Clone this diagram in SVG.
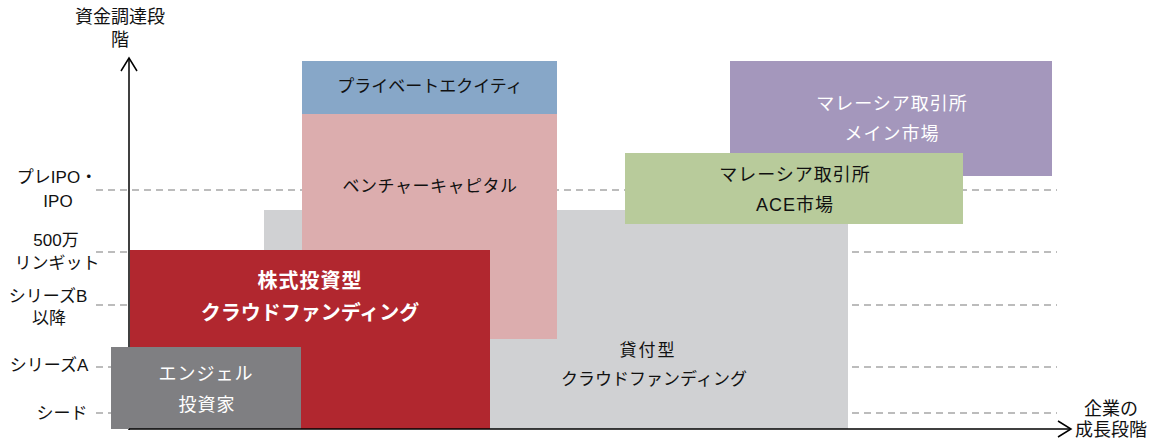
<svg xmlns="http://www.w3.org/2000/svg" width="1157" height="441" viewBox="0 0 1157 441">
<style>
text{font-family:"Liberation Sans","Noto Sans CJK JP",sans-serif;font-size:17px;text-anchor:middle;fill:#111;}
.w{fill:#fff;}
.b{font-weight:bold;font-size:20px;}
.m{font-size:18px;letter-spacing:1px;}
.lbl{font-size:17px;}
.ax18{font-size:18px;}
.dash{stroke:#a6a6a6;stroke-width:1.3;stroke-dasharray:7,5;fill:none;}
.ax{stroke:#000;stroke-width:1.5;fill:none;}
</style>
<rect width="1157" height="441" fill="#fff"/>
<g id="gridlines">
<line class="dash" x1="96" y1="190" x2="1057" y2="190"/>
<line class="dash" x1="96" y1="252" x2="1057" y2="252"/>
<line class="dash" x1="96" y1="305" x2="1057" y2="305"/>
<line class="dash" x1="96" y1="367" x2="1057" y2="367"/>
<line class="dash" x1="96" y1="413" x2="1057" y2="413"/>
</g>
<g id="yaxis">
<line class="ax" x1="129" y1="430" x2="129" y2="58"/>
<polyline class="ax" points="121,71 129,58 137,71"/>
</g>
<g id="lending">
<rect x="264" y="210" width="584" height="219" fill="#d0d1d3"/>
<text x="648" y="356" style="letter-spacing:2px">貸付型</text>
<text x="654" y="385">クラウドファンディング</text>
</g>
<g id="vc">
<rect x="302" y="114" width="255" height="225" fill="#dcadae"/>
<text x="430" y="192" style="letter-spacing:0.5px">ベンチャーキャピタル</text>
</g>
<g id="pe">
<rect x="302" y="61" width="255" height="53" fill="#87a7c8"/>
<text x="430" y="92">プライベートエクイティ</text>
</g>
<g id="equity">
<rect x="130" y="250" width="360" height="179" fill="#b1272f"/>
<text class="w b" x="310" y="288" style="letter-spacing:1px">株式投資型</text>
<text class="w b" x="310" y="320">クラウドファンディング</text>
</g>
<g id="angel">
<rect x="111" y="347" width="190" height="82" fill="#7f7f82"/>
<text class="w m" x="206" y="380">エンジェル</text>
<text class="w m" x="207" y="411">投資家</text>
</g>
<g id="main">
<rect x="730" y="61" width="322" height="115" fill="#a497bc"/>
<text class="w m" x="892" y="110">マレーシア取引所</text>
<text class="w m" x="892" y="140">メイン市場</text>
</g>
<g id="ace">
<rect x="625" y="153" width="338" height="71" fill="#b8cb9b"/>
<text class="m" x="795" y="181">マレーシア取引所</text>
<text class="m" x="795" y="211">ACE市場</text>
</g>
<g id="xaxis">
<line class="ax" x1="129" y1="429" x2="1071" y2="429"/>
<polyline class="ax" points="1058,421 1071,429 1058,437"/>
</g>
<g id="labels">
<text class="ax18" x="120" y="23">資金調達段</text>
<text class="ax18" x="120" y="46">階</text>
<text class="lbl" x="57" y="183">プレIPO・</text>
<text class="lbl" x="58" y="207">IPO</text>
<text class="lbl" x="56" y="246">500万</text>
<text class="lbl" x="57" y="269">リンギット</text>
<text class="lbl" x="48" y="302">シリーズB</text>
<text class="lbl" x="49" y="324">以降</text>
<text class="lbl" x="49" y="371">シリーズA</text>
<text class="lbl" x="62" y="419">シード</text>
<text class="ax18" x="1111" y="415">企業の</text>
<text class="ax18" x="1111" y="436">成長段階</text>
</g>
</svg>
